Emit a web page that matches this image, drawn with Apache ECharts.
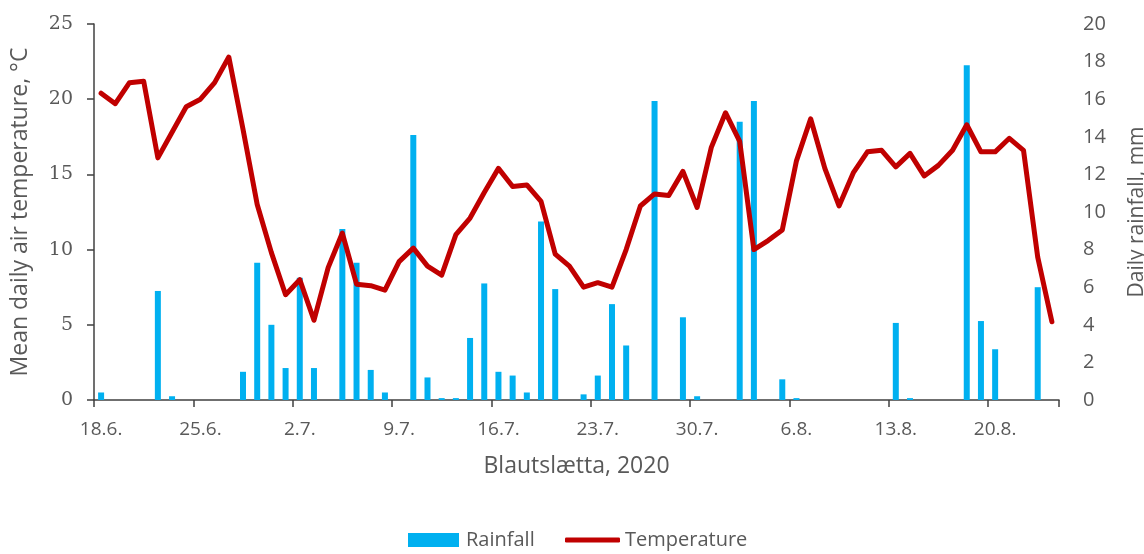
<!DOCTYPE html>
<html>
<head>
<meta charset="utf-8">
<script src="https://cdn.jsdelivr.net/npm/echarts@6/dist/echarts.min.js"></script>
<style>
  html, body { margin: 0; padding: 0; background: #fff; }
  #chart { width: 1144px; height: 554px; }
</style>
</head>
<body>
<div id="chart"></div>
<script>
// Daily dates, 18 June – 24 August 2020
const dates = [
  '18.6.', '19.6.', '20.6.', '21.6.', '22.6.', '23.6.', '24.6.', '25.6.', '26.6.', '27.6.',
  '28.6.', '29.6.', '30.6.', '1.7.', '2.7.', '3.7.', '4.7.', '5.7.', '6.7.', '7.7.',
  '8.7.', '9.7.', '10.7.', '11.7.', '12.7.', '13.7.', '14.7.', '15.7.', '16.7.', '17.7.',
  '18.7.', '19.7.', '20.7.', '21.7.', '22.7.', '23.7.', '24.7.', '25.7.', '26.7.', '27.7.',
  '28.7.', '29.7.', '30.7.', '31.7.', '1.8.', '2.8.', '3.8.', '4.8.', '5.8.', '6.8.',
  '7.8.', '8.8.', '9.8.', '10.8.', '11.8.', '12.8.', '13.8.', '14.8.', '15.8.', '16.8.',
  '17.8.', '18.8.', '19.8.', '20.8.', '21.8.', '22.8.', '23.8.', '24.8.'
];

// Mean daily air temperature, °C
const temperature = [
  20.4, 19.7, 21.1, 21.2, 16.1, 17.8, 19.5, 20.0, 21.1, 22.8,
  18.0, 13.0, 9.8, 7.0, 8.0, 5.3, 8.8, 11.1, 7.7, 7.6,
  7.3, 9.2, 10.1, 8.9, 8.3, 11.0, 12.1, 13.8, 15.4, 14.2,
  14.3, 13.2, 9.7, 8.9, 7.5, 7.8, 7.5, 10.0, 12.9, 13.7,
  13.6, 15.2, 12.8, 16.8, 19.1, 17.2, 10.0, 10.6, 11.3, 15.9,
  18.7, 15.4, 12.9, 15.1, 16.5, 16.6, 15.5, 16.4, 14.9, 15.6,
  16.6, 18.3, 16.5, 16.5, 17.4, 16.6, 9.5, 5.2
];

// Daily rainfall, mm
const rainfall = [
  0.4, 0, 0, 0, 5.8, 0.2, 0, 0, 0, 0,
  1.5, 7.3, 4.0, 1.7, 6.5, 1.7, 0, 9.1, 7.3, 1.6,
  0.4, 0, 14.1, 1.2, 0.1, 0.1, 3.3, 6.2, 1.5, 1.3,
  0.4, 9.5, 5.9, 0, 0.3, 1.3, 5.1, 2.9, 0, 15.9,
  0, 4.4, 0.2, 0, 0, 14.8, 15.9, 0, 1.1, 0.1,
  0, 0, 0, 0, 0, 0, 4.1, 0.1, 0, 0,
  0, 17.8, 4.2, 2.7, 0, 0, 6.0, 0
];

const tempTicks = { min: 0, max: 25, interval: 5 };
const rainTicks = { min: 0, max: 20, interval: 2 };

const textGrey = '#595959';
const axisGrey = '#404040';
const sans = "'Open Sans', 'Liberation Sans', sans-serif";
const serif = "'DejaVu Serif', 'Liberation Serif', serif";

const chart = echarts.init(document.getElementById('chart'), null, { renderer: 'canvas' });

chart.setOption({
  backgroundColor: '#ffffff',
  animation: false,
  grid: { left: 94, right: 85, top: 24, bottom: 154, containLabel: false, outerBoundsMode: 'none' },
  legend: [
    {
      data: [{ name: 'Rainfall', icon: 'rect' }],
      left: 408, top: 530, padding: 0,
      itemWidth: 51, itemHeight: 14, itemGap: 0,
      textStyle: { color: textGrey, fontSize: 20, fontFamily: sans, padding: [0, 0, 0, 2] }
    },
    {
      data: [{ name: 'Temperature', icon: 'roundRect' }],
      left: 565, top: 530, padding: 0,
      itemWidth: 55, itemHeight: 5, itemGap: 0,
      textStyle: { color: textGrey, fontSize: 20, fontFamily: sans, padding: [0, 0, 0, 0] }
    }
  ],
  xAxis: {
    type: 'category',
    data: dates,
    boundaryGap: true,
    name: 'Blautslætta, 2020',
    nameLocation: 'middle',
    nameGap: 55,
    nameTextStyle: { color: textGrey, fontSize: 23, fontFamily: sans },
    axisLine: { show: true, lineStyle: { color: axisGrey, width: 1.5 } },
    axisTick: { show: true, interval: 6, length: 7, lineStyle: { color: axisGrey, width: 1.5 } },
    axisLabel: { interval: 6, margin: 20, color: textGrey, fontSize: 19, fontFamily: sans },
    splitLine: { show: false }
  },
  yAxis: [
    {
      type: 'value',
      position: 'left',
      min: tempTicks.min, max: tempTicks.max, interval: tempTicks.interval,
      name: 'Mean daily air temperature, °C',
      nameLocation: 'middle',
      nameGap: 62,
      nameTextStyle: { color: textGrey, fontSize: 23, fontFamily: sans },
      axisLine: { show: true, lineStyle: { color: axisGrey, width: 1.5 } },
      axisTick: { show: true, length: 7, lineStyle: { color: axisGrey, width: 1.5 } },
      axisLabel: { margin: 21, color: textGrey, fontSize: 19, fontFamily: serif },
      splitLine: { show: false }
    },
    {
      type: 'value',
      position: 'right',
      min: rainTicks.min, max: rainTicks.max, interval: rainTicks.interval,
      name: 'Daily rainfall, mm',
      nameLocation: 'middle',
      nameGap: 68,
      nameTextStyle: { color: textGrey, fontSize: 21, fontFamily: sans },
      axisLine: { show: false },
      axisTick: { show: false },
      axisLabel: { margin: 24, color: textGrey, fontSize: 20, fontFamily: sans },
      splitLine: { show: false }
    }
  ],
  series: [
    {
      name: 'Rainfall',
      type: 'bar',
      yAxisIndex: 1,
      data: rainfall,
      barWidth: 6,
      itemStyle: { color: '#00B0F0' },
      z: 2
    },
    {
      name: 'Temperature',
      type: 'line',
      yAxisIndex: 0,
      data: temperature,
      symbol: 'none',
      lineStyle: { color: '#C00000', width: 5, join: 'round', cap: 'round' },
      itemStyle: { color: '#C00000' },
      z: 3
    }
  ]
});
</script>
</body>
</html>
